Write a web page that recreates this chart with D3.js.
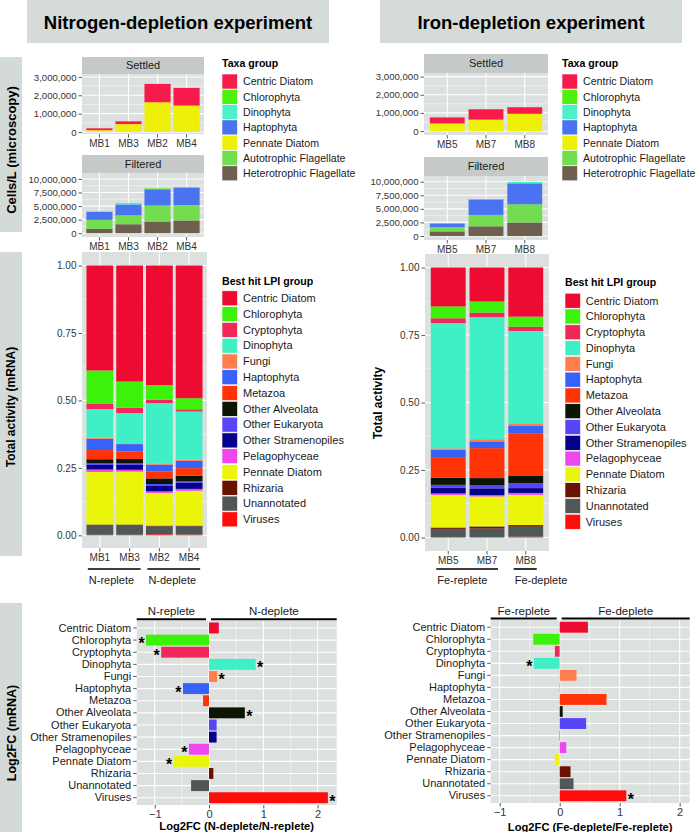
<!DOCTYPE html>
<html><head><meta charset="utf-8">
<script src="https://cdn.jsdelivr.net/npm/d3@7"></script>
<style>body{margin:0;background:#fff;} svg{display:block;font-family:"Liberation Sans",Arial,sans-serif;}</style>
</head><body><svg id="c" width="696" height="832"></svg>
<script>
// ---------------- DATA ----------------
const nSamples = ["MB1", "MB3", "MB2", "MB4"];
const feSamples = ["MB5", "MB7", "MB8"];
const nConditions = ["N-replete", "N-deplete"];
const feConditions = ["Fe-replete", "Fe-deplete"];
const nConditionSamples = [["MB1", "MB3"], ["MB2", "MB4"]];
const feConditionSamples = [["MB5", "MB7"], ["MB8"]];

const taxaGroups = ["Centric Diatom", "Chlorophyta", "Dinophyta", "Haptophyta", "Pennate Diatom", "Autotrophic Flagellate", "Heterotrophic Flagellate"];
const taxaColors = ["#F71B4C", "#4EF00C", "#4BF2C8", "#4A73F2", "#EEF00A", "#72DD4E", "#6F5F4F"];

// cells/L, in taxaGroups order
const settledMB1 = [100000, 0, 0, 0, 100000, 0, 0];
const settledMB3 = [150000, 0, 0, 0, 430000, 0, 0];
const settledMB2 = [1000000, 0, 0, 0, 1620000, 0, 0];
const settledMB4 = [960000, 0, 0, 0, 1440000, 0, 0];
const settledMB5 = [330000, 0, 0, 0, 420000, 0, 0];
const settledMB7 = [570000, 0, 0, 0, 630000, 0, 0];
const settledMB8 = [360000, 0, 0, 0, 950000, 0, 0];

const filteredMB1 = [0, 0, 60000, 1500000, 0, 1650000, 800000];
const filteredMB3 = [0, 0, 300000, 2000000, 0, 1650000, 1650000];
const filteredMB2 = [0, 150000, 0, 3000000, 0, 2950000, 2150000];
const filteredMB4 = [0, 150000, 0, 3150000, 0, 2850000, 2350000];
const filteredMB5 = [0, 0, 0, 650000, 0, 800000, 850000];
const filteredMB7 = [0, 0, 60000, 2850000, 0, 2100000, 1780000];
const filteredMB8 = [0, 0, 250000, 3850000, 0, 3350000, 2500000];

const cellTicks = [0, 1000000, 2000000, 3000000];
const filteredTicks = [0, 2500000, 5000000, 7500000, 10000000];
const activityTicks = [0, 0.25, 0.5, 0.75, 1];
const fcTicks = [-1, 0, 1, 2];

const lpiGroups = ["Centric Diatom", "Chlorophyta", "Cryptophyta", "Dinophyta", "Fungi", "Haptophyta", "Metazoa", "Other Alveolata", "Other Eukaryota", "Other Stramenopiles", "Pelagophyceae", "Pennate Diatom", "Rhizaria", "Unannotated", "Viruses"];
const lpiColors = ["#EE0A30", "#3CF20A", "#F0285A", "#3FF0C6", "#FF7E4E", "#3662FA", "#FF3305", "#0C1505", "#5646F8", "#04028A", "#F046F0", "#EAF50A", "#6A1200", "#4F5757", "#FF0D0D"];

// relative activity, in lpiGroups order
const activityMB1 = [0.389, 0.124, 0.019, 0.106, 0.004, 0.042, 0.034, 0.015, 0.006, 0.017, 0.009, 0.195, 0.004, 0.034, 0.002];
const activityMB3 = [0.430, 0.097, 0.020, 0.112, 0.003, 0.027, 0.028, 0.015, 0.007, 0.018, 0.007, 0.196, 0.004, 0.034, 0.002];
const activityMB2 = [0.443, 0.054, 0.013, 0.224, 0.004, 0.025, 0.026, 0.021, 0.007, 0.020, 0.006, 0.121, 0.003, 0.029, 0.004];
const activityMB4 = [0.492, 0.041, 0.008, 0.179, 0.004, 0.027, 0.028, 0.021, 0.005, 0.023, 0.007, 0.129, 0.003, 0.030, 0.003];
const activityMB5 = [0.144, 0.044, 0.018, 0.464, 0.005, 0.030, 0.074, 0.026, 0.010, 0.022, 0.005, 0.121, 0.005, 0.030, 0.002];
const activityMB7 = [0.126, 0.041, 0.017, 0.452, 0.008, 0.025, 0.111, 0.027, 0.011, 0.025, 0.005, 0.111, 0.008, 0.031, 0.002];
const activityMB8 = [0.182, 0.037, 0.016, 0.342, 0.010, 0.027, 0.158, 0.027, 0.018, 0.018, 0.007, 0.112, 0.006, 0.037, 0.003];

// log2 fold change, in lpiGroups order
const nLog2FC = [0.18, -1.16, -0.88, 0.86, 0.15, -0.48, -0.11, 0.66, 0.14, 0.14, -0.37, -0.65, 0.08, -0.33, 2.19];
const nSignificant = [0, 1, 1, 1, 1, 1, 0, 1, 0, 0, 1, 1, 0, 0, 1];
const feLog2FC = [0.47, -0.44, -0.08, -0.43, 0.28, 0.005, 0.78, 0.05, 0.44, -0.005, 0.11, -0.08, 0.18, 0.23, 1.11];
const feSignificant = [0, 0, 0, 1, 0, 0, 0, 0, 0, 0, 0, 0, 0, 0, 1];

// ---------------- DRAWING ----------------
const svg = d3.select("#c");
const PANEL = "#DCE0DF", STRIP = "#D4DAD7", FACET = "#C5CAC8", TXT = "#333";

function rows(samples, groups, series) {
  return samples.map((s, i) => {
    const o = {sample: s};
    groups.forEach((g, j) => o[g] = series[i][j]);
    return o;
  });
}

function styleAxis(a, fs) {
  a.select(".domain").remove();
  a.selectAll(".tick line").attr("stroke", TXT).attr("stroke-width", 0.8);
  a.selectAll(".tick text").attr("fill", TXT).attr("font-size", fs).attr("font-family", "Liberation Sans, Arial, sans-serif");
}

function vstack(c) {
  const g = svg.append("g");
  const x = d3.scaleBand().domain(c.samples).range([c.x0, c.x1]).paddingInner(0.1).paddingOuter(0.15);
  const y = d3.scaleLinear().domain(c.domain).range([c.y1, c.y0]);
  g.append("rect").attr("x", c.x0).attr("y", c.y0).attr("width", c.x1 - c.x0).attr("height", c.y1 - c.y0).attr("fill", PANEL);
  const minor = [];
  for (let i = 0; i < c.ticks.length - 1; i++) minor.push((c.ticks[i] + c.ticks[i + 1]) / 2);
  if (c.ticks.length > 1) {
    const st = c.ticks[1] - c.ticks[0];
    const nx = c.ticks[c.ticks.length - 1] + st / 2;
    if (nx < c.domain[1]) minor.push(nx);
  }
  g.selectAll(".mn").data(minor).join("line").attr("x1", c.x0).attr("x2", c.x1)
    .attr("y1", d => y(d)).attr("y2", d => y(d)).attr("stroke", "#fff").attr("stroke-width", 0.5);
  g.selectAll(".mj").data(c.ticks).join("line").attr("x1", c.x0).attr("x2", c.x1)
    .attr("y1", d => y(d)).attr("y2", d => y(d)).attr("stroke", "#fff").attr("stroke-width", 1.1);
  g.selectAll(".vx").data(c.samples).join("line").attr("x1", d => x(d) + x.bandwidth() / 2).attr("x2", d => x(d) + x.bandwidth() / 2)
    .attr("y1", c.y0).attr("y2", c.y1).attr("stroke", "#fff").attr("stroke-width", 1.1);
  const keys = c.groups.slice().reverse();
  const col = d3.scaleOrdinal().domain(c.groups).range(c.colors);
  const stacked = d3.stack().keys(keys)(rows(c.samples, c.groups, c.series));
  g.selectAll("g.layer").data(stacked).join("g").attr("fill", d => col(d.key))
    .selectAll("rect").data(d => d).join("rect")
    .attr("x", d => x(d.data.sample)).attr("width", x.bandwidth())
    .attr("y", d => y(d[1])).attr("height", d => Math.max(0, y(d[0]) - y(d[1])));
  const ay = g.append("g").attr("transform", `translate(${c.x0},0)`)
    .call(d3.axisLeft(y).tickValues(c.ticks).tickFormat(c.fmt).tickSize(3.5).tickPadding(2));
  styleAxis(ay, c.yfs || 9.6);
  const ax = g.append("g").attr("transform", `translate(0,${c.y1})`)
    .call(d3.axisBottom(x).tickSize(3.5).tickPadding(2));
  styleAxis(ax, 10);
  if (c.facet) {
    g.append("rect").attr("x", c.x0).attr("y", c.facet[0]).attr("width", c.x1 - c.x0).attr("height", c.y0 - c.facet[0]).attr("fill", FACET);
    g.append("text").attr("x", (c.x0 + c.x1) / 2).attr("y", (c.facet[0] + c.y0) / 2 + 3.9)
      .attr("text-anchor", "middle").attr("font-size", 11).attr("fill", "#1a1a1a").text(c.facet[1]);
  }
  return x;
}

function legend(c) {
  const g = svg.append("g");
  g.append("text").attr("x", c.x).attr("y", c.titleY + 3.8).attr("font-size", 10.6).attr("font-weight", "bold").attr("fill", "#000").text(c.title);
  c.groups.forEach((name, i) => {
    const cy = c.y0 + i * c.step;
    g.append("rect").attr("x", c.x).attr("y", cy - 7.5).attr("width", 15.5).attr("height", 15).attr("fill", c.colors[i])
      .attr("stroke", "#fff").attr("stroke-width", 0.6);
    g.append("text").attr("x", c.labelX).attr("y", cy + 3.8).attr("font-size", c.fs).attr("fill", "#1a1a1a").text(name);
  });
}

function fcPanel(c) {
  const g = svg.append("g");
  const x = d3.scaleLinear().domain(c.domain).range([c.x0, c.x1]);
  const y = d3.scaleBand().domain(c.groups).range([c.y0, c.y1]).paddingInner(0.1).paddingOuter(0.15);
  const col = d3.scaleOrdinal().domain(c.groups).range(c.colors);
  g.append("rect").attr("x", c.x0).attr("y", c.y0).attr("width", c.x1 - c.x0).attr("height", c.y1 - c.y0).attr("fill", PANEL);
  const minor = [];
  for (let i = 0; i < c.ticks.length - 1; i++) minor.push((c.ticks[i] + c.ticks[i + 1]) / 2);
  minor.push(c.ticks[0] - 0.5);
  g.selectAll(".mn").data(minor.filter(v => v > c.domain[0] && v < c.domain[1])).join("line")
    .attr("x1", d => x(d)).attr("x2", d => x(d)).attr("y1", c.y0).attr("y2", c.y1).attr("stroke", "#fff").attr("stroke-width", 0.5);
  g.selectAll(".mj").data(c.ticks).join("line")
    .attr("x1", d => x(d)).attr("x2", d => x(d)).attr("y1", c.y0).attr("y2", c.y1).attr("stroke", "#fff").attr("stroke-width", 1.1);
  g.selectAll(".hz").data(c.groups).join("line")
    .attr("x1", c.x0).attr("x2", c.x1).attr("y1", d => y(d) + y.bandwidth() / 2).attr("y2", d => y(d) + y.bandwidth() / 2)
    .attr("stroke", "#fff").attr("stroke-width", 1.1);
  const data = c.groups.map((gname, i) => ({g: gname, v: c.values[i], s: c.sig[i]}));
  g.selectAll(".bar").data(data).join("rect")
    .attr("x", d => x(Math.min(0, d.v))).attr("width", d => Math.abs(x(d.v) - x(0)))
    .attr("y", d => y(d.g)).attr("height", y.bandwidth()).attr("fill", d => col(d.g));
  g.selectAll(".star").data(data.filter(d => d.s)).join("text")
    .attr("x", d => x(d.v) + (d.v >= 0 ? 4.5 : -4.5)).attr("y", d => y(d.g) + y.bandwidth() / 2 + 9)
    .attr("text-anchor", "middle").attr("font-size", 16).attr("font-weight", "bold").attr("fill", "#000").text("*");
  const ay = g.append("g").attr("transform", `translate(${c.x0},0)`).call(d3.axisLeft(y).tickSize(3.5).tickPadding(2));
  styleAxis(ay, 11);
  ay.selectAll(".tick text").attr("fill", "#1a1a1a");
  const ax = g.append("g").attr("transform", `translate(0,${c.y1})`).call(d3.axisBottom(x).tickValues(c.ticks).tickSize(3.5).tickPadding(2).tickFormat(d3.format("d")));
  styleAxis(ax, 11);
  // condition headers
  const z = x(0);
  const heads = [[c.x0, z - 3, c.cond[0]], [z + 2, c.x1, c.cond[1]]];
  heads.forEach(h => {
    g.append("line").attr("x1", h[0]).attr("x2", h[1]).attr("y1", c.y0 - 1.5).attr("y2", c.y0 - 1.5).attr("stroke", "#000").attr("stroke-width", 2);
    g.append("text").attr("x", (h[0] + h[1]) / 2).attr("y", c.y0 - 5.5).attr("text-anchor", "middle").attr("font-size", 11.5).attr("fill", "#1a1a1a").text(h[2]);
  });
  g.append("text").attr("x", (c.x0 + c.x1) / 2).attr("y", c.titleY + 4).attr("text-anchor", "middle")
    .attr("font-size", 11.2).attr("font-weight", "bold").attr("fill", "#000").text(c.title);
}

function conditionLines(x, conds, condSamples, yLine, yText) {
  conds.forEach((cname, i) => {
    const ss = condSamples[i];
    const a = x(ss[0]) + x.bandwidth() / 2 - 12;
    const b = x(ss[ss.length - 1]) + x.bandwidth() / 2 + 11;
    svg.append("line").attr("x1", a).attr("x2", b).attr("y1", yLine).attr("y2", yLine).attr("stroke", "#000").attr("stroke-width", 1.6);
    svg.append("text").attr("x", a + 1).attr("y", yText + 4).attr("font-size", 11).attr("fill", "#1a1a1a").text(cname);
  });
}

// titles
[[27, 329, "Nitrogen-depletion experiment"], [380, 682, "Iron-depletion experiment"]].forEach(t => {
  svg.append("rect").attr("x", t[0]).attr("y", 0).attr("width", t[1] - t[0]).attr("height", 43).attr("fill", "#D5DBD8");
  svg.append("text").attr("x", (t[0] + t[1]) / 2).attr("y", 28.5).attr("text-anchor", "middle")
    .attr("font-size", 18.5).attr("font-weight", "bold").attr("fill", "#000").text(t[2]);
});

// left strips
[[57, 232, "Cells/L (microscopy)", 150, 13], [252, 556, "Total activity (mRNA)", 407, 12], [603, 832, "Log2FC (mRNA)", 733, 12.5]].forEach(s => {
  svg.append("rect").attr("x", 0).attr("y", s[0]).attr("width", 22).attr("height", s[1] - s[0]).attr("fill", STRIP);
  svg.append("text").attr("transform", `translate(${11 + s[4] * 0.36},${s[3]}) rotate(-90)`).attr("text-anchor", "middle")
    .attr("font-size", s[4]).attr("font-weight", "bold").attr("fill", "#000").text(s[2]);
});
svg.append("text").attr("transform", `translate(${378 + 4.3},403) rotate(-90)`).attr("text-anchor", "middle")
  .attr("font-size", 12).attr("font-weight", "bold").attr("fill", "#000").text("Total activity");

const fmtC = d3.format(",");
const fmtA = d3.format(".2f");

// microscopy panels
vstack({x0: 82, x1: 204, y0: 74, y1: 134, facet: [57, "Settled"], samples: nSamples, groups: taxaGroups, colors: taxaColors,
  series: [settledMB1, settledMB3, settledMB2, settledMB4], domain: [-110000, 3160000], ticks: cellTicks, fmt: fmtC});
vstack({x0: 82, x1: 204, y0: 173, y1: 237, facet: [155, "Filtered"], samples: nSamples, groups: taxaGroups, colors: taxaColors,
  series: [filteredMB1, filteredMB3, filteredMB2, filteredMB4], domain: [-700000, 11100000], ticks: filteredTicks, fmt: fmtC});
vstack({x0: 424, x1: 548, y0: 73, y1: 135, facet: [54, "Settled"], samples: feSamples, groups: taxaGroups, colors: taxaColors,
  series: [settledMB5, settledMB7, settledMB8], domain: [-220000, 3200000], ticks: cellTicks, fmt: fmtC});
vstack({x0: 424, x1: 548, y0: 176, y1: 240, facet: [157, "Filtered"], samples: feSamples, groups: taxaGroups, colors: taxaColors,
  series: [filteredMB5, filteredMB7, filteredMB8], domain: [-740000, 11050000], ticks: filteredTicks, fmt: fmtC});

legend({x: 222, titleY: 63, title: "Taxa group", groups: taxaGroups, colors: taxaColors, y0: 81.5, step: 15.3, labelX: 243, fs: 10.6});
legend({x: 562, titleY: 63, title: "Taxa group", groups: taxaGroups, colors: taxaColors, y0: 81.5, step: 15.3, labelX: 583, fs: 10.6});

// activity panels
const xN = vstack({x0: 82, x1: 207, y0: 252, y1: 548, samples: nSamples, groups: lpiGroups, colors: lpiColors,
  series: [activityMB1, activityMB3, activityMB2, activityMB4], domain: [-0.047, 1.05], ticks: activityTicks, fmt: fmtA, yfs: 10});
const xF = vstack({x0: 425, x1: 549, y0: 254, y1: 551, samples: feSamples, groups: lpiGroups, colors: lpiColors,
  series: [activityMB5, activityMB7, activityMB8], domain: [-0.05, 1.05], ticks: activityTicks, fmt: fmtA, yfs: 10});
conditionLines(xN, nConditions, nConditionSamples, 569, 580);
conditionLines(xF, feConditions, feConditionSamples, 569, 580);

legend({x: 222, titleY: 281, title: "Best hit LPI group", groups: lpiGroups, colors: lpiColors, y0: 298.3, step: 15.79, labelX: 243, fs: 11});
legend({x: 565, titleY: 282, title: "Best hit LPI group", groups: lpiGroups, colors: lpiColors, y0: 300.7, step: 15.79, labelX: 585.7, fs: 11});

// log2FC panels
fcPanel({x0: 136.7, x1: 336.7, y0: 620.7, y1: 805, domain: [-1.332, 2.352], groups: lpiGroups, colors: lpiColors,
  values: nLog2FC, sig: nSignificant, ticks: fcTicks, cond: nConditions, title: "Log2FC (N-deplete/N-replete)", titleY: 826});
fcPanel({x0: 490.7, x1: 689.7, y0: 620, y1: 803, domain: [-1.15, 2.167], groups: lpiGroups, colors: lpiColors,
  values: feLog2FC, sig: feSignificant, ticks: fcTicks, cond: feConditions, title: "Log2FC (Fe-deplete/Fe-replete)", titleY: 826.7});
</script></body></html>
